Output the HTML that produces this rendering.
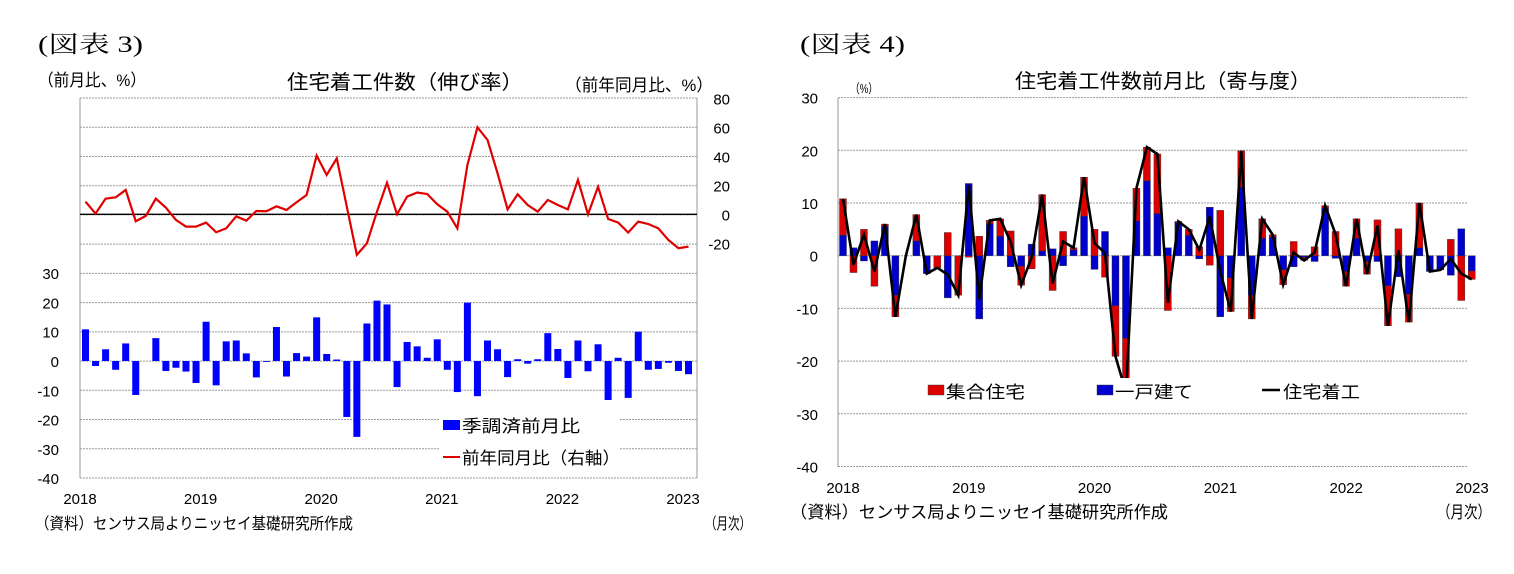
<!DOCTYPE html>
<html><head><meta charset="utf-8">
<style>
body{margin:0;background:#fff;}
svg text{font-family:"Liberation Sans","Noto Sans CJK JP",sans-serif;fill:#000;}
.serif{font-family:"Liberation Serif","Noto Serif CJK SC",serif !important;}
</style></head>
<body>
<svg id="c" width="1514" height="569" xmlns="http://www.w3.org/2000/svg">
<text class="serif" x="38" y="52" font-size="23" textLength="105" lengthAdjust="spacingAndGlyphs">(図表 3)</text>
<text class="serif" x="800" y="52" font-size="23" textLength="105" lengthAdjust="spacingAndGlyphs">(図表 4)</text>
<text x="38" y="86" font-size="17" textLength="108" lengthAdjust="spacingAndGlyphs">（前月比、%）</text>
<text x="287" y="89" font-size="20" textLength="236" lengthAdjust="spacingAndGlyphs">住宅着工件数（伸び率）</text>
<text x="565" y="91" font-size="17" textLength="148" lengthAdjust="spacingAndGlyphs">（前年同月比、%）</text>
<text x="35" y="529" font-size="16" textLength="318" lengthAdjust="spacingAndGlyphs">（資料）センサス局よりニッセイ基礎研究所作成</text>
<text x="705" y="529" font-size="16" textLength="46" lengthAdjust="spacingAndGlyphs">（月次）</text>
<text x="850" y="93" font-size="13" textLength="28" lengthAdjust="spacingAndGlyphs">（%）</text>
<text x="1015" y="88" font-size="20" textLength="296" lengthAdjust="spacingAndGlyphs">住宅着工件数前月比（寄与度）</text>
<text x="790" y="518" font-size="17" textLength="378" lengthAdjust="spacingAndGlyphs">（資料）センサス局よりニッセイ基礎研究所作成</text>
<text x="1437" y="518" font-size="17" textLength="54" lengthAdjust="spacingAndGlyphs">（月次）</text>
<g id="g3"></g><g id="g4"></g>
</svg>
<script>
const years=["2018","2019","2020","2021","2022","2023"];
const mom=[10.8,-1.7,4,-3,6,-11.6,0,7.8,-3.4,-2.3,-3.6,-7.5,13.4,-8.3,6.7,7,2.6,-5.6,-0.3,11.6,-5.3,2.7,1.5,14.9,2.4,0.5,-19.1,-25.9,12.8,20.6,19.3,-8.9,6.5,5,1.1,7.4,-3,-10.6,19.9,-12,7,4,-5.5,0.6,-0.9,0.6,9.5,4.1,-5.8,7,-3.5,5.7,-13.3,1.1,-12.6,10,-3,-2.7,-0.6,-3.4,-4.5];
const yoy=[8.7,0.5,10.8,11.7,16.8,-4.8,-1.1,10.8,4.6,-3.9,-8.5,-8.5,-5.7,-12.4,-9.7,-1.4,-4.4,2.3,2.1,5.5,3,8.3,13.3,40.5,27.1,38.6,5.3,-28,-20,1.8,21.8,0,12.2,15,14,6.9,1.8,-9.7,34,60,51.3,28.3,3.4,13.8,6.4,1.8,9.9,6.4,3.4,23.7,0,19,-3.2,-5.7,-12.6,-5,-6.7,-9.7,-17.7,-23.4,-22.3];
const single=[3.9,1.5,-1,2.8,5.6,-7.5,0,2.8,-3.4,0,-8,0,13.7,-12,6.1,3.7,-2.1,-2,2.2,0.9,1.3,-1.9,1.1,7.5,-2.6,4.6,-9.5,-15.7,6.6,14.2,8,1.5,6.3,3.9,-0.6,9.2,-11.6,-4.2,13,-7.5,3.3,3.6,-2.7,-2.1,-0.3,-1.1,9,-0.5,-3,3.3,-1.1,-1.1,-5.7,-4,-7.3,1.5,-3,-2.7,-3.7,5.1,-2.9];
const multi=mom.map((t,i)=>+(t-single[i]).toFixed(2));
const leftTicks=[30,20,10,0,-10,-20,-30,-40];
const rightTicks=[80,60,40,20,0,-20];
const c4Ticks=[30,20,10,0,-10,-20,-30,-40];
const NS="http://www.w3.org/2000/svg";
function mk(p,t,a,txt){const e=document.createElementNS(NS,t);for(const k in a)e.setAttribute(k,a[k]);if(txt!==undefined)e.textContent=txt;p.appendChild(e);return e;}
// ---- chart 3
const g3=document.getElementById('g3');
const X3=i=>85.5+10.05*i, YL=v=>361-v*2.93, YR=v=>214.3-v*1.45;
for(let k=0;k<14;k++){const y=98+k*29.23;const l=mk(g3,'line',{x1:80,x2:697,y1:y,y2:y,stroke:'#999','stroke-dasharray':'2,1'});}
let a=mk(g3,'line',{x1:80,x2:80,y1:98,y2:478,stroke:'#999'});
a=mk(g3,'line',{x1:697,x2:697,y1:98,y2:478,stroke:'#999'});
leftTicks.forEach(v=>{const t=mk(g3,'text',{x:59,y:YL(v)+6,'font-size':15,'text-anchor':'end'},v);});
rightTicks.forEach(v=>{const t=mk(g3,'text',{x:730,y:YR(v)+6,'font-size':15,'text-anchor':'end'},v);});
years.forEach((y,k)=>{const t=mk(g3,'text',{x:80+k*120.6,y:504,'font-size':15,'text-anchor':'middle'},y);});
mom.forEach((v,i)=>{const r=mk(g3,'rect',{x:X3(i)-3.5,width:7,y:Math.min(YL(v),YL(0)),height:Math.abs(YL(v)-YL(0)),fill:'#0000ff'});});
a=mk(g3,'line',{x1:80,x2:697,y1:214.3,y2:214.3,stroke:'#000','stroke-width':1.3});
let pl=mk(g3,'polyline',{points:yoy.map((v,i)=>X3(i)+','+YR(v)).join(' '),fill:'none',stroke:'#e00000','stroke-width':2.2});

mk(g3,'rect',{x:440,y:410,width:180,height:60,fill:'#fff'});
a=mk(g3,'rect',{x:443,y:420,width:17,height:10,fill:'#0000ff'});
a=mk(g3,'text',{x:462,y:432,'font-size':17,textLength:118,lengthAdjust:'spacingAndGlyphs'},'季調済前月比');
a=mk(g3,'line',{x1:443,x2:460,y1:457,y2:457,stroke:'#e00000','stroke-width':2});
a=mk(g3,'text',{x:462,y:464,'font-size':17,textLength:158,lengthAdjust:'spacingAndGlyphs'},'前年同月比（右軸）');
// ---- chart 4
const g4=document.getElementById('g4');
const X4=i=>843+10.48*i, Y4=v=>255.7-v*5.27;
c4Ticks.forEach(v=>{const l=mk(g4,'line',{x1:838,x2:1467,y1:Y4(v),y2:Y4(v),stroke:'#999','stroke-dasharray':'2,1'});
const t=mk(g4,'text',{x:818,y:Y4(v)+6,'font-size':15,'text-anchor':'end'},v);});
a=mk(g4,'line',{x1:838,x2:838,y1:98,y2:467,stroke:'#999'});
years.forEach((y,k)=>{const t=mk(g4,'text',{x:843+k*125.8,y:493,'font-size':15,'text-anchor':'middle'},y);});
single.forEach((s,i)=>{const m=multi[i];let pos=0,neg=0;
[[s,'#0000cc','single-family-bar'],[m,'#dd0000','multi-family-bar']].forEach(([v,col,nm])=>{let y0,y1;if(v>=0){y0=pos;pos+=v;y1=pos;}else{y0=neg;neg+=v;y1=neg;}
const r=mk(g4,'rect',{x:X4(i)-3.5,width:7,y:Math.min(Y4(y0),Y4(y1)),height:Math.abs(Y4(y1)-Y4(y0)),fill:col,stroke:'#333','stroke-width':0.4});
});});
pl=mk(g4,'polyline',{points:mom.map((v,i)=>X4(i)+','+Y4(v)).join(' '),fill:'none',stroke:'#000','stroke-width':2.6});

mk(g4,'rect',{x:920,y:378,width:350,height:26,fill:'#fff'});
a=mk(g4,'rect',{x:928,y:385,width:16,height:10,fill:'#dd0000',stroke:'#333','stroke-width':0.4});
a=mk(g4,'text',{x:946,y:398,'font-size':17,textLength:79,lengthAdjust:'spacingAndGlyphs'},'集合住宅');
a=mk(g4,'rect',{x:1097,y:385,width:16,height:10,fill:'#0000cc',stroke:'#333','stroke-width':0.4});
a=mk(g4,'text',{x:1115,y:398,'font-size':17,textLength:78,lengthAdjust:'spacingAndGlyphs'},'一戸建て');
a=mk(g4,'line',{x1:1262,x2:1280,y1:390,y2:390,stroke:'#000','stroke-width':2.5});
a=mk(g4,'text',{x:1283,y:398,'font-size':17,textLength:77,lengthAdjust:'spacingAndGlyphs'},'住宅着工');
</script>
</body></html>
